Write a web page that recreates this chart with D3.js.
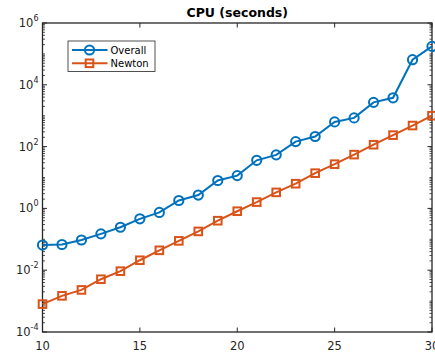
<!DOCTYPE html>
<html>
<head>
<meta charset="utf-8">
<script src="https://cdn.jsdelivr.net/npm/d3@7"></script>
<style>
  body { margin: 0; background: #fff; }
  svg { display: block; font-family: "DejaVu Sans", sans-serif; }
</style>
</head>
<body>
<div id="chart"></div>
<script>
const sizes = [10, 11, 12, 13, 14, 15, 16, 17, 18, 19, 20, 21, 22, 23, 24, 25, 26, 27, 28, 29, 30];
const overall = [0.065, 0.068, 0.095, 0.15, 0.245, 0.46, 0.74, 1.8, 2.7, 8, 11.5, 36, 54, 145, 212, 630, 850, 2700, 3800, 65000, 175000];
const newton = [0.0008, 0.00148, 0.0023, 0.0051, 0.0093, 0.021, 0.044, 0.089, 0.18, 0.4, 0.81, 1.6, 3.3, 6.3, 13.8, 27, 55, 115, 235, 480, 1000];
const xTicks = [10, 15, 20, 25, 30];
const yTickExps = [-4, -2, 0, 2, 4, 6];

const W = 435, H = 354;
const margin = { top: 23, right: 3, bottom: 22, left: 42.5 };
const width = W - margin.left - margin.right;
const height = H - margin.top - margin.bottom;
const axisColor = '#262626';

const svg = d3.select('#chart').append('svg')
    .attr('width', W)
    .attr('height', H);

const g = svg.append('g')
    .attr('transform', `translate(${margin.left},${margin.top})`);

const x = d3.scaleLinear().domain([10, 30]).range([0, width]);
const y = d3.scaleLog().domain([1e-4, 1e6]).range([height, 0]);

// minor ticks on log axis
const minor = [];
for (let e = -4; e < 6; e++) {
    for (let k = 1; k < 10; k++) {
        const v = k * Math.pow(10, e);
        if (!(k === 1 && yTickExps.includes(e))) minor.push(v);
    }
}

const ticksG = g.append('g');
minor.forEach(v => {
    const yy = y(v);
    ticksG.append('line').attr('x1', 0).attr('x2', 2.5).attr('y1', yy).attr('y2', yy)
        .attr('stroke', axisColor).attr('stroke-width', 0.8);
    ticksG.append('line').attr('x1', width).attr('x2', width - 2.5).attr('y1', yy).attr('y2', yy)
        .attr('stroke', axisColor).attr('stroke-width', 0.8);
});
yTickExps.forEach(e => {
    const yy = y(Math.pow(10, e));
    ticksG.append('line').attr('x1', 0).attr('x2', 4.5).attr('y1', yy).attr('y2', yy)
        .attr('stroke', axisColor).attr('stroke-width', 1);
    ticksG.append('line').attr('x1', width).attr('x2', width - 4.5).attr('y1', yy).attr('y2', yy)
        .attr('stroke', axisColor).attr('stroke-width', 1);
    const t = g.append('text')
        .attr('x', -4)
        .attr('y', yy + 4)
        .attr('text-anchor', 'end')
        .attr('fill', axisColor)
        .style('font-size', '11.5px');
    t.append('tspan').text('10');
    t.append('tspan').attr('dy', -6).style('font-size', '8px').text(e);
});
xTicks.forEach(v => {
    const xx = x(v);
    ticksG.append('line').attr('x1', xx).attr('x2', xx).attr('y1', height).attr('y2', height - 4.5)
        .attr('stroke', axisColor).attr('stroke-width', 1);
    ticksG.append('line').attr('x1', xx).attr('x2', xx).attr('y1', 0).attr('y2', 4.5)
        .attr('stroke', axisColor).attr('stroke-width', 1);
    g.append('text')
        .attr('x', xx)
        .attr('y', height + 18)
        .attr('text-anchor', 'middle')
        .attr('fill', axisColor)
        .style('font-size', '11.5px')
        .text(v);
});

g.append('rect')
    .attr('width', width).attr('height', height)
    .attr('fill', 'none')
    .attr('stroke', axisColor)
    .attr('stroke-width', 1.3);

const series = [
    { name: 'Overall', values: overall, color: '#0072BD', marker: 'circle' },
    { name: 'Newton', values: newton, color: '#D95319', marker: 'square' }
];

const line = d3.line()
    .x((d, i) => x(sizes[i]))
    .y(d => y(d));

function drawMarker(sel, type, color) {
    if (type === 'circle') {
        sel.append('circle').attr('r', 4.6)
            .attr('fill', 'none').attr('stroke', color).attr('stroke-width', 2);
    } else {
        sel.append('rect').attr('x', -3.8).attr('y', -3.8).attr('width', 7.6).attr('height', 7.6)
            .attr('fill', 'none').attr('stroke', color).attr('stroke-width', 2);
    }
}

series.forEach(s => {
    g.append('path')
        .datum(s.values)
        .attr('d', line)
        .attr('fill', 'none')
        .attr('stroke', s.color)
        .attr('stroke-width', 2);
    g.selectAll(null)
        .data(s.values)
        .join('g')
        .attr('transform', (d, i) => `translate(${x(sizes[i])},${y(d)})`)
        .each(function() { drawMarker(d3.select(this), s.marker, s.color); });
});

// title
svg.append('text')
    .attr('x', margin.left + width / 2)
    .attr('y', 17)
    .attr('text-anchor', 'middle')
    .attr('fill', '#000')
    .style('font-size', '12.5px')
    .style('font-weight', 'bold')
    .text('CPU (seconds)');

// legend
const legend = svg.append('g').attr('transform', 'translate(68,41)');
legend.append('rect')
    .attr('width', 87).attr('height', 30.5)
    .attr('fill', '#fff')
    .attr('stroke', axisColor)
    .attr('stroke-width', 0.8);
series.forEach((s, i) => {
    const row = legend.append('g').attr('transform', `translate(0,${9 + i * 13.3})`);
    row.append('line').attr('x1', 4).attr('x2', 39.5).attr('y1', 0).attr('y2', 0)
        .attr('stroke', s.color).attr('stroke-width', 2);
    drawMarker(row.append('g').attr('transform', 'translate(21.5,0)'), s.marker, s.color);
    row.append('text')
        .attr('x', 42.5).attr('y', 3.8)
        .attr('fill', '#000')
        .style('font-size', '10px')
        .text(s.name);
});
</script>
</body>
</html>
